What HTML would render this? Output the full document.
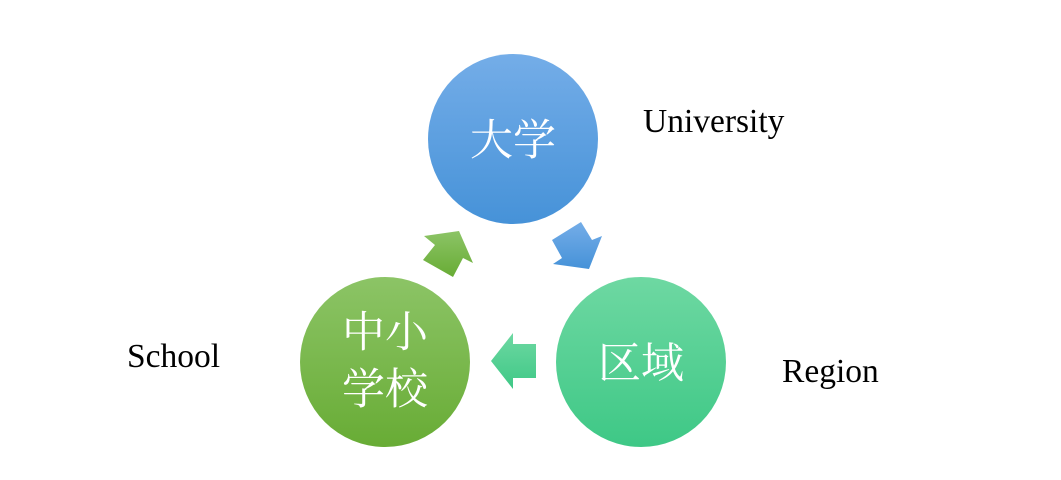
<!DOCTYPE html>
<html><head><meta charset="utf-8"><style>
body{margin:0;width:1061px;height:480px;background:#fff;overflow:hidden;position:relative;font-family:"Liberation Serif","Noto Serif CJK SC",serif}
.l{position:absolute;font-size:33.5px;color:#000}
</style></head><body>
<svg width="1061" height="480" style="position:absolute;left:0;top:0">
<defs>
<linearGradient id="b" x1="0" y1="0" x2="0" y2="1"><stop offset="0" stop-color="#74ade8"/><stop offset="1" stop-color="#4692d8"/></linearGradient>
<linearGradient id="g" x1="0" y1="0" x2="0" y2="1"><stop offset="0" stop-color="#8cc466"/><stop offset="1" stop-color="#68ac35"/></linearGradient>
<linearGradient id="t" x1="0" y1="0" x2="0" y2="1"><stop offset="0" stop-color="#6ed8a2"/><stop offset="1" stop-color="#3ec886"/></linearGradient>
</defs>
<circle cx="513" cy="139" r="85" fill="url(#b)"/>
<circle cx="385" cy="362" r="85" fill="url(#g)"/>
<circle cx="641" cy="362" r="85" fill="url(#t)"/>
<polygon points="424,236 459,231 473,263 463,258 453,277 423,260 435,245" fill="url(#g)"/>
<polygon points="552,240 581,222 592,240 602,236 589,269 553,264 562,258" fill="url(#b)"/>
<polygon points="491,361 513,333 513,344 536,344 536,378 513,378 513,389" fill="url(#t)"/>
<g fill="#fff" font-family="Liberation Serif,Noto Serif CJK SC,serif" font-size="43" text-anchor="middle">
<text x="513" y="155">大学</text>
<text x="385" y="347">中小</text>
<text x="385" y="404">学校</text>
<text x="641" y="378">区域</text>
</g>
</svg>
<div class="l" style="left:643px;top:103px">University</div>
<div class="l" style="left:127px;top:338px">School</div>
<div class="l" style="left:782px;top:353px">Region</div>
</body></html>
